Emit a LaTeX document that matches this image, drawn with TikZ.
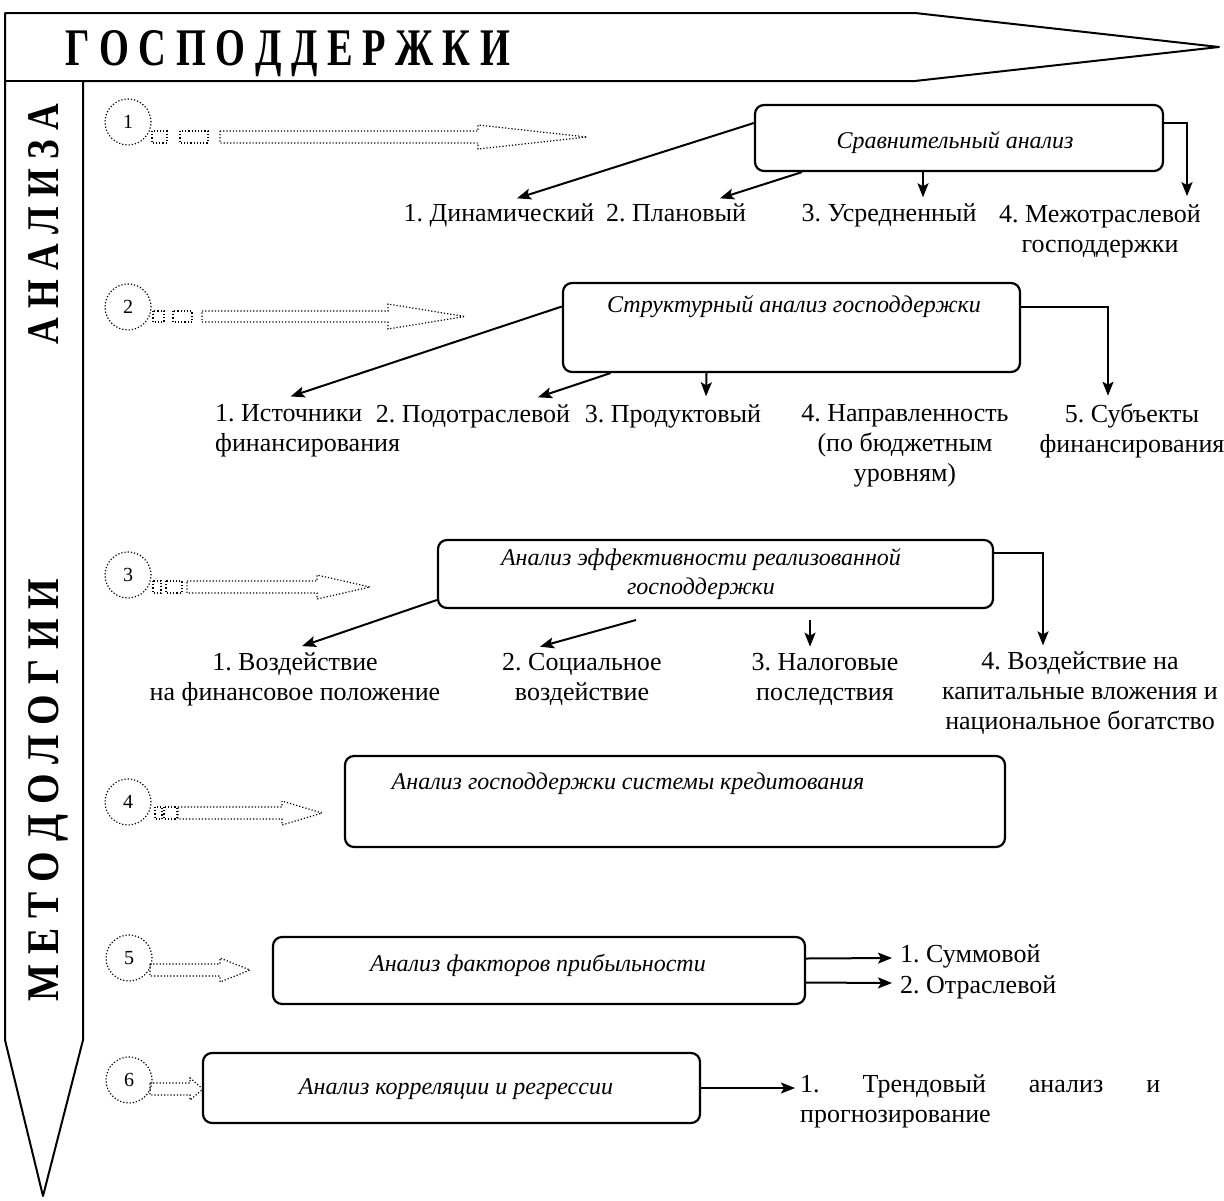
\documentclass[tikz,border=0pt]{standalone}
\usepackage{fontspec}
\setmainfont{Liberation Serif}
\usepackage{graphicx}
\usetikzlibrary{positioning, arrows.meta, calc}
\frenchspacing

\begin{document}
\begin{tikzpicture}[x=1pt, y=-1pt,
    box/.style={draw, rounded corners=9pt, line width=2.2pt, inner sep=0pt},
    itl/.style={font=\fontsize{24}{29}\selectfont\itshape, align=center, inner sep=0pt},
    lbl/.style={font=\fontsize{26}{30}\selectfont, align=center, inner sep=0pt},
    one/.style={lbl, text height=19pt, text depth=6pt},
    num/.style={draw, circle, dotted, line width=1.2pt, minimum size=46pt, inner sep=0pt, font=\fontsize{20}{22}\selectfont},
    dots/.style={dotted, line width=1.2pt},
    link/.style={line width=2pt, -{Stealth[length=14pt, width=11pt, inset=3pt]}},
    frame/.style={line width=2pt, line join=round}]

    \useasboundingbox (0,0) rectangle (1224,1200);

    % outer arrows
    \draw[frame] (5,13) -- (915,13) -- (1219,47) -- (915,81) -- (83,81) -- (83,1040) -- (43,1196) -- (5,1040) -- cycle;
    \draw[frame] (5,81) -- (83,81);
    \node[anchor=base west, inner sep=0pt] (title) at (65,65) {\resizebox{445pt}{35pt}{\bfseries Г О С П О Д Д Е Р Ж К И}};
    \node[rotate=90, anchor=base, inner sep=0pt] (side1) at (58,224) {\resizebox{240pt}{30pt}{\bfseries А Н А Л И З А}};
    \node[rotate=90, anchor=base, inner sep=0pt] (side2) at (58,790) {\resizebox{422pt}{30pt}{\bfseries М Е Т О Д О Л О Г И И}};

    % numbered pointers
    \node[num] (n1) at (128,122) {1};
    \draw[dots] (152,131) rectangle (167,143);
    \draw[dots] (180,131) rectangle (208,143);
    \draw[dots] (220,131) -- (478,131) -- (478,125) -- (587,137) -- (478,149) -- (478,143) -- (220,143) -- cycle;

    \node[num] (n2) at (128,307) {2};
    \draw[dots] (153,311) rectangle (164,322);
    \draw[dots] (173,311) rectangle (192,322);
    \draw[dots] (202,311) -- (388,311) -- (388,304) -- (465,316.5) -- (388,329) -- (388,322) -- (202,322) -- cycle;

    \node[num] (n3) at (128,575) {3};
    \draw[dots] (153,581) rectangle (161,593);
    \draw[dots] (166,581) rectangle (182,593);
    \draw[dots] (187,581) -- (317,581) -- (317,575) -- (370,587) -- (317,599) -- (317,593) -- (187,593) -- cycle;

    \node[num] (n4) at (128,802) {4};
    \draw[dots] (155,807) rectangle (162,819);
    \draw[dots] (164,807) rectangle (177,819);
    \draw[dots] (178,807) -- (282,807) -- (282,801) -- (322,813) -- (282,825) -- (282,819) -- (178,819) -- cycle;

    \node[num] (n5) at (129,958) {5};
    \draw[dots] (150,964) -- (220,964) -- (220,958) -- (250,970) -- (220,982) -- (220,976) -- (150,976) -- cycle;

    \node[num] (n6) at (129,1080) {6};
    \draw[dots] (150,1083) -- (190,1083) -- (190,1078) -- (203,1089) -- (190,1100) -- (190,1095) -- (150,1095) -- cycle;

    % 1
    \node[box, minimum width=408pt, minimum height=66pt] (b1) at (959,138) {};
    \node[itl] (b1t) at (955,143) {Сравнительный анализ};
    \node[one] (r1a) at (499,215) {1. Динамический};
    \node[one] (r1b) at (676,215) {2. Плановый};
    \node[one] (r1c) at (889,215) {3. Усредненный};
    \node[lbl] (r1d) at (1100,231) {4. Межотраслевой\\господдержки};
    \draw[link] ($(b1.west)+(0,-15)$) -- ($(r1a.north)+(18,-4)$);
    \draw[link] ($(b1.south)+(-157,0)$) -- ($(r1b.north)+(44,-4)$);
    \draw[link] ($(b1.south)+(-36,0)$) -- ($(r1c.north)+(34,-5)$);
    \draw[link] ($(b1.east)+(0,-15)$) -| ($(r1d.north)+(87,-8)$);

    % 2
    \node[box, minimum width=457pt, minimum height=89pt] (b2) at (791.5,327.5) {};
    \node[itl] (b2t) at (794,307) {Структурный анализ господдержки};
    \node[lbl, align=left, anchor=west] (r2a) at (215,431) {1. Источники\\финансирования};
    \node[one] (r2b) at (473,416) {2. Подотраслевой};
    \node[one] (r2c) at (673,416) {3. Продуктовый};
    \node[lbl] (r2d) at (905,446) {4. Направленность\\(по бюджетным\\уровням)};
    \node[lbl] (r2e) at (1132,431) {5. Субъекты\\финансирования};
    \draw[link] ($(b2.west)+(0,-21)$) -- ($(r2a.north)+(-17,-8)$);
    \draw[link] ($(b2.south)+(-181,0)$) -- ($(r2b.north)+(65,-6)$);
    \draw[link] ($(b2.south)+(-85,0)$) -- ($(r2c.north)+(33,-7)$);
    \draw[link] ($(b2.east)+(0,-21)$) -| ($(r2e.north)+(-24,-8)$);

    % 3
    \node[box, minimum width=555pt, minimum height=68pt] (b3) at (715.5,574) {};
    \node[itl] (b3t) at (701,574) {Анализ эффективности реализованной\\господдержки};
    \node[lbl] (r3a) at (295,679) {1. Воздействие\\на финансовое положение};
    \node[lbl] (r3b) at (582,679) {2. Социальное\\воздействие};
    \node[lbl] (r3c) at (825,679) {3. Налоговые\\последствия};
    \node[lbl] (r3d) at (1080,693) {4. Воздействие на\\капитальные вложения и\\национальное богатство};
    \coordinate (s2) at (636,620);
    \coordinate (s3) at (810,620);
    \draw[link] ($(b3.west)+(0,26)$) -- ($(r3a.north)+(7,-6)$);
    \draw[link] (s2) -- ($(r3b.north)+(-42,-6)$);
    \draw[link] (s3) -- ($(r3c.north)+(-15,-6)$);
    \draw[link] ($(b3.east)+(0,-21)$) -| ($(r3d.north)+(-37,-6)$);

    % 4
    \node[box, minimum width=660pt, minimum height=91pt] (b4) at (675,801.5) {};
    \node[itl] (b4t) at (628,784) {Анализ господдержки системы кредитования};

    % 5
    \node[box, minimum width=532pt, minimum height=67pt] (b5) at (539,970.5) {};
    \node[itl] (b5t) at (538,965) {Анализ факторов прибыльности};
    \node[one, anchor=west] (r5a) at (900,956) {1. Суммовой};
    \node[one, anchor=west] (r5b) at (900,987) {2. Отраслевой};
    \draw[link] ($(b5.east)+(0,-12)$) -- ($(r5a.west)+(-8,2)$);
    \draw[link] ($(b5.east)+(0,12)$) -- ($(r5b.west)+(-8,-4)$);

    % 6
    \node[box, minimum width=497pt, minimum height=70pt] (b6) at (451.5,1088) {};
    \node[itl] (b6t) at (456,1089) {Анализ корреляции и регрессии};
    \node[lbl, text width=360pt, align=justify, anchor=north west] (r6a) at (800,1074) {1.\ Трендовый анализ и \mbox{прогнозирование}};
    \draw[link] (b6.east) -- ($(r6a.north west)+(-5,14)$);
\end{tikzpicture}
\end{document}
